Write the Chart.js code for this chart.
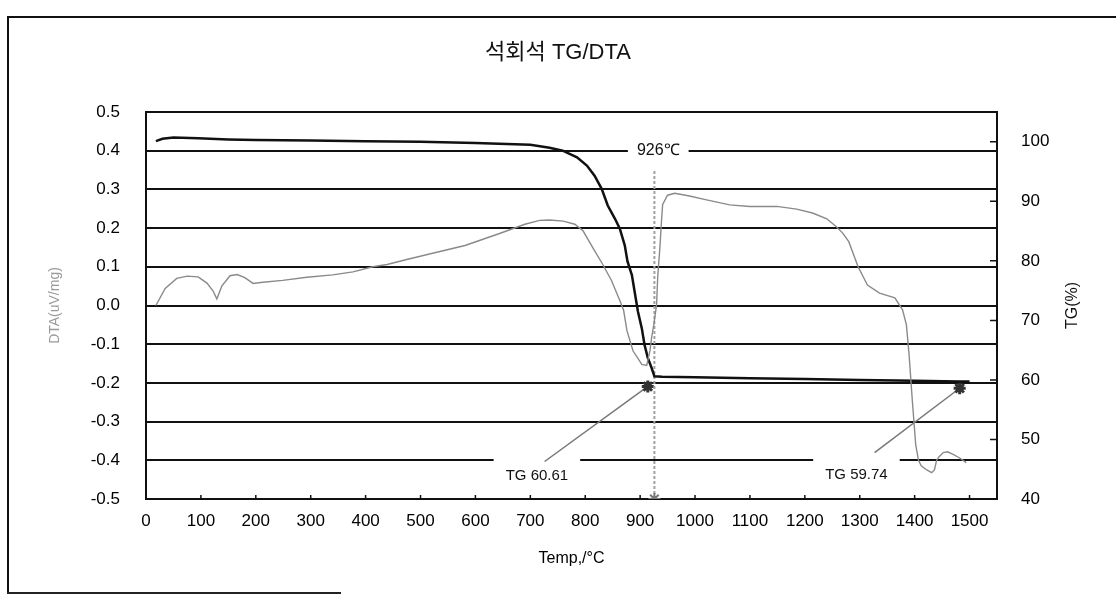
<!DOCTYPE html>
<html>
<head>
<meta charset="utf-8">
<script src="https://cdn.jsdelivr.net/npm/chart.js@4.4.1/dist/chart.umd.min.js"></script>
<style>
  html, body { margin: 0; padding: 0; background: #fff; }
  #wrap { position: relative; width: 1116px; height: 598px; overflow: hidden; }
  #frame { position: absolute; left: 7px; top: 16px; width: 1200px; height: 576px; border-left: 2px solid #111; border-top: 2px solid #111; }
  #frameBottom { position: absolute; left: 7px; top: 592px; width: 334px; height: 0; border-top: 2px solid #222; }
  canvas { position: absolute; left: 0; top: 0; }
</style>
</head>
<body>
<div id="wrap">
  <div id="frame"></div>
  <div id="frameBottom"></div>
  <canvas id="tgdtaChart" width="1116" height="598"></canvas>
</div>
<script>
// DTA curve (uV/mg) vs temperature
const dtaTemp = [18, 35, 56, 75, 95, 111, 122, 129, 138, 153, 166, 180, 195, 213, 249, 293, 340, 377, 413, 439,
    475, 522, 581, 644, 690, 717, 735, 760, 781, 796, 814, 832, 848, 863, 870, 876, 887, 903, 912, 918, 921,
    925, 930, 932, 936, 939, 941, 950, 963, 990, 1021, 1063, 1100, 1149, 1185, 1214, 1240, 1258, 1269, 1280,
    1297, 1314, 1336, 1364, 1378, 1385, 1390, 1396, 1402, 1407, 1412, 1422, 1431, 1436, 1440, 1445, 1452,
    1460, 1470, 1482, 1494];
const dtaValue = [0.0, 0.044, 0.07, 0.076, 0.074, 0.058, 0.038, 0.017, 0.05, 0.077, 0.08, 0.072, 0.057, 0.06, 0.065, 0.073, 0.079, 0.087, 0.1, 0.106,
    0.119, 0.135, 0.155, 0.186, 0.21, 0.22, 0.221, 0.218, 0.21, 0.193, 0.149, 0.106, 0.064, 0.013, -0.013, -0.065, -0.117, -0.152, -0.155, -0.116, -0.082,
    -0.049, 0.003, 0.073, 0.15, 0.22, 0.261, 0.285, 0.29, 0.283, 0.273, 0.26, 0.256, 0.256, 0.249, 0.239, 0.224, 0.203, 0.187, 0.165,
    0.1, 0.053, 0.032, 0.02, -0.011, -0.05, -0.13, -0.25, -0.36, -0.4, -0.414, -0.425, -0.432, -0.425, -0.40, -0.39, -0.38,
    -0.378, -0.385, -0.394, -0.406];

// TG curve (%) vs temperature
const tgTemp = [18, 30, 50, 95, 150, 200, 300, 400, 500, 600, 700, 735, 759, 785, 803, 817, 830, 841, 854, 863,
    872, 877, 885, 890, 896, 903, 908, 914, 921, 926, 940, 1000, 1100, 1200, 1300, 1400, 1480, 1500];
const tgValue = [100.1, 100.5, 100.7, 100.6, 100.4, 100.3, 100.2, 100.1, 100.0, 99.8, 99.5, 99.0, 98.5, 97.4, 96.0, 94.3, 92.1, 89.3, 87.1, 85.4,
    82.6, 79.9, 77.6, 74.8, 71.5, 68.7, 65.9, 63.7, 62.0, 60.61, 60.55, 60.45, 60.3, 60.15, 60.0, 59.85, 59.74, 59.72];

// peak marker and annotations
const peakTemp = 926;
const peakLineDta = [-0.5, 0.35];
const noteText = ['926℃', 'TG 60.61', 'TG 59.74'];
const noteTemp = [933, 712, 1294];
const noteDta = [0.4, -0.44, -0.438];
const arrowStartTemp = [726, 1327];
const arrowStartTg = [46.3, 47.8];
const arrowTipTemp = [914, 1482];
const arrowTipTg = [58.9, 58.6];

const FONT = '"Liberation Sans", Arial, sans-serif';
Chart.defaults.font.family = FONT;
Chart.defaults.color = '#000';

const toPoints = (xs, ys) => xs.map((v, i) => ({ x: v, y: ys[i] }));

const extras = {
    id: 'extras',
    beforeDatasetsDraw(chart) {
        const { ctx, scales: { x, y } } = chart;
        ctx.save();
        ctx.textAlign = 'center';
        ctx.textBaseline = 'middle';
        noteText.forEach((t, i) => {
            const px = x.getPixelForValue(noteTemp[i]);
            const py = y.getPixelForValue(noteDta[i]);
            ctx.font = (i === 0 ? '16px ' : '15px ') + FONT;
            const w = ctx.measureText(t).width + (i === 0 ? 18 : 24);
            ctx.fillStyle = '#fff';
            if (i === 0) ctx.fillRect(px - w / 2, py - 11, w, 22);
            else ctx.fillRect(px - w / 2, py - 20, w, 36);
            ctx.fillStyle = '#111';
            ctx.fillText(t, px, py);
        });
        ctx.restore();
    },
    afterDraw(chart) {
        const { ctx, chartArea, scales: { x, y2 } } = chart;
        ctx.save();
        ctx.strokeStyle = '#111';
        ctx.lineWidth = 1.5;
        ctx.beginPath();
        x.ticks.forEach(t => {
            if (t.value === 0 || t.value % 100 !== 0) return;
            const px = x.getPixelForValue(t.value);
            ctx.moveTo(px, chartArea.bottom);
            ctx.lineTo(px, chartArea.bottom - 4);
        });
        y2.ticks.forEach(t => {
            if (t.value % 10 !== 0) return;
            const py = y2.getPixelForValue(t.value);
            ctx.moveTo(chartArea.right, py);
            ctx.lineTo(chartArea.right - 7, py);
        });
        ctx.stroke();

        // right axis title, read bottom to top
        ctx.translate(y2.right - 43, (chartArea.top + chartArea.bottom) / 2);
        ctx.rotate(-Math.PI / 2);
        ctx.font = '16px ' + FONT;
        ctx.fillStyle = '#111';
        ctx.textAlign = 'center';
        ctx.textBaseline = 'middle';
        ctx.fillText('TG(%)', 0, 0);
        ctx.restore();
    }
};

const arrowSet = i => ({
    data: [{ x: arrowStartTemp[i], y: arrowStartTg[i] }, { x: arrowTipTemp[i], y: arrowTipTg[i] }],
    yAxisID: 'y2',
    showLine: true,
    borderColor: '#777',
    borderWidth: 1.5,
    pointStyle: 'star',
    pointRadius: [0, 6],
    pointBorderColor: '#333',
    pointBorderWidth: 3
});

new Chart(document.getElementById('tgdtaChart'), {
    type: 'scatter',
    data: {
        datasets: [
            {
                label: 'DTA',
                data: toPoints(dtaTemp, dtaValue),
                yAxisID: 'y',
                showLine: true,
                borderColor: '#8a8a8a',
                borderWidth: 1.4,
                pointRadius: 0,
                tension: 0
            },
            {
                label: 'TG',
                data: toPoints(tgTemp, tgValue),
                yAxisID: 'y2',
                showLine: true,
                borderColor: '#111',
                borderWidth: 2.5,
                pointRadius: 0,
                tension: 0
            },
            {
                label: 'peak',
                data: peakLineDta.map(v => ({ x: peakTemp, y: v })),
                yAxisID: 'y',
                showLine: true,
                borderColor: '#a0a0a0',
                borderWidth: 2,
                borderDash: [3, 2],
                pointStyle: 'star',
                pointRadius: [6, 0],
                pointBorderColor: '#777',
                pointBorderWidth: 2
            },
            arrowSet(0),
            arrowSet(1)
        ]
    },
    options: {
        responsive: false,
        animation: false,
        devicePixelRatio: 1,
        layout: { padding: 0 },
        plugins: {
            legend: { display: false },
            tooltip: { enabled: false },
            title: {
                display: true,
                text: '석회석 TG/DTA',
                color: '#111',
                font: { family: '"Liberation Sans", "Noto Sans CJK KR", sans-serif', size: 22, weight: 'normal' },
                padding: { top: 40, bottom: 45.6 }
            }
        },
        scales: {
            x: {
                type: 'linear',
                position: 'bottom',
                min: 0,
                max: 1550,
                grid: { display: false, drawTicks: false },
                border: { display: true, color: '#111', width: 2 },
                ticks: {
                    stepSize: 100,
                    includeBounds: false,
                    autoSkip: false,
                    maxRotation: 0,
                    padding: 12,
                    font: { size: 17 },
                    callback: v => (v % 100 === 0 ? v : '')
                },
                title: {
                    display: true,
                    text: 'Temp,/°C',
                    font: { size: 16 },
                    padding: { top: 0, bottom: 30 }
                },
                afterFit: s => { s.height = 99; }
            },
            y: {
                position: 'left',
                min: -0.5,
                max: 0.5,
                grid: { color: '#111', lineWidth: 2, drawTicks: false },
                border: { display: true, color: '#111', width: 2 },
                ticks: {
                    stepSize: 0.1,
                    padding: 26,
                    font: { size: 17 },
                    callback: v => v.toFixed(1)
                },
                title: {
                    display: true,
                    text: 'DTA(uV/mg)',
                    color: '#9a9a9a',
                    font: { size: 14 },
                    padding: { top: 47, bottom: 0 }
                },
                afterFit: s => { s.width = 146; }
            },
            y2: {
                position: 'right',
                min: 40,
                max: 105,
                grid: { display: false, drawTicks: false },
                border: { display: true, color: '#111', width: 2 },
                ticks: {
                    stepSize: 10,
                    includeBounds: false,
                    padding: 24,
                    font: { size: 17 },
                    callback: v => (v % 10 === 0 ? v : '')
                },
                afterFit: s => { s.width = 119; }
            }
        }
    },
    plugins: [extras]
});
</script>
</body>
</html>
